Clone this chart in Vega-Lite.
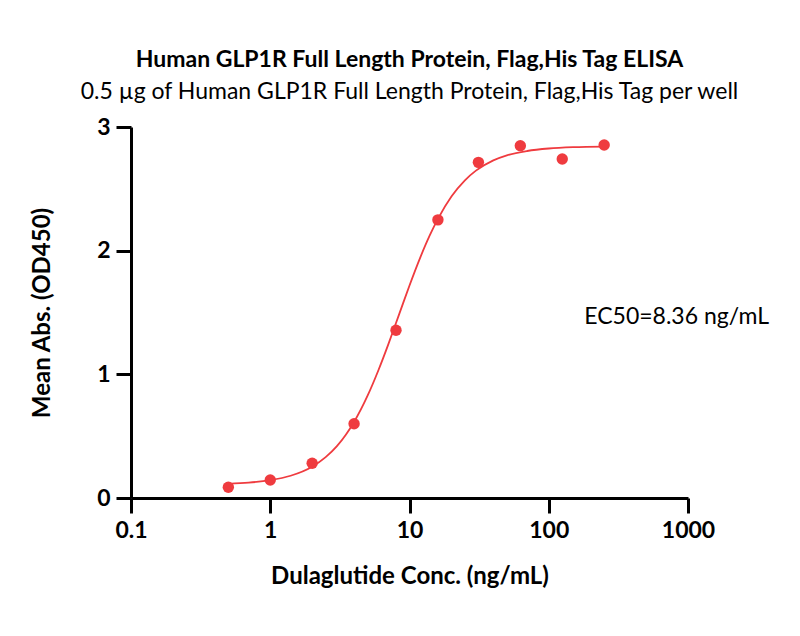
{
  "$schema": "https://vega.github.io/schema/vega-lite/v6.json",
  "width": 557,
  "height": 371,
  "autosize": {"type": "none"},
  "padding": {"left": 131, "top": 127, "right": 112, "bottom": 138},
  "background": "white",
  "config": {
    "font": "Lato",
    "view": {"stroke": null},
    "axis": {
      "domainColor": "black",
      "domainWidth": 3,
      "tickColor": "black",
      "tickWidth": 3,
      "tickSize": 15,
      "grid": false,
      "labelFont": "Lato",
      "labelFontWeight": "bold",
      "labelFontSize": 23,
      "labelColor": "black",
      "titleFont": "Lato",
      "titleFontWeight": "bold",
      "titleFontSize": 24,
      "titleColor": "black"
    }
  },
  "title": {
    "text": "Human GLP1R Full Length Protein, Flag,His Tag ELISA",
    "subtitle": "0.5 µg of Human GLP1R Full Length Protein, Flag,His Tag per well",
    "anchor": "middle",
    "font": "Lato",
    "fontSize": 23,
    "fontWeight": "bold",
    "color": "black",
    "subtitleFont": "Lato",
    "subtitleFontSize": 23,
    "subtitleColor": "black",
    "subtitlePadding": 9,
    "offset": 12
  },
  "datasets": {
    "points": [
      {"conc": 0.5, "abs": 0.087},
      {"conc": 1, "abs": 0.146},
      {"conc": 2, "abs": 0.281},
      {"conc": 4, "abs": 0.6},
      {"conc": 8, "abs": 1.357},
      {"conc": 16, "abs": 2.249},
      {"conc": 31.25, "abs": 2.714},
      {"conc": 62.5, "abs": 2.849},
      {"conc": 125, "abs": 2.741},
      {"conc": 250, "abs": 2.854}
    ],
    "curve": [
      {"conc": 0.5, "abs": 0.115},
      {"conc": 0.7, "abs": 0.124},
      {"conc": 1, "abs": 0.144},
      {"conc": 1.4, "abs": 0.18},
      {"conc": 2, "abs": 0.253},
      {"conc": 2.5, "abs": 0.33},
      {"conc": 3, "abs": 0.417},
      {"conc": 3.5, "abs": 0.514},
      {"conc": 4, "abs": 0.615},
      {"conc": 5, "abs": 0.827},
      {"conc": 6, "abs": 1.037},
      {"conc": 7, "abs": 1.234},
      {"conc": 8, "abs": 1.415},
      {"conc": 9, "abs": 1.576},
      {"conc": 10, "abs": 1.718},
      {"conc": 12, "abs": 1.95},
      {"conc": 14, "abs": 2.125},
      {"conc": 16, "abs": 2.257},
      {"conc": 20, "abs": 2.438},
      {"conc": 25, "abs": 2.569},
      {"conc": 30, "abs": 2.647},
      {"conc": 40, "abs": 2.73},
      {"conc": 50, "abs": 2.771},
      {"conc": 70, "abs": 2.806},
      {"conc": 100, "abs": 2.826},
      {"conc": 150, "abs": 2.837},
      {"conc": 250, "abs": 2.842}
    ],
    "label": [
      {"conc": 180, "abs": 1.46, "text": "EC50=8.36 ng/mL"}
    ]
  },
  "layer": [
    {
      "data": {"name": "curve"},
      "mark": {"type": "line", "color": "#EF3B3F", "strokeWidth": 1.8, "interpolate": "monotone"},
      "encoding": {
        "x": {
          "field": "conc", "type": "quantitative",
          "scale": {"type": "log", "domain": [0.1, 1000], "nice": false},
          "axis": {"values": [0.1, 1, 10, 100, 1000], "format": "~g", "title": "Dulaglutide Conc. (ng/mL)", "labelPadding": 6, "titlePadding": 22, "labelFlush": false}
        },
        "y": {
          "field": "abs", "type": "quantitative",
          "scale": {"domain": [0, 3], "nice": false},
          "axis": {"values": [0, 1, 2, 3], "format": "d", "title": "Mean Abs. (OD450)", "labelPadding": 6, "titlePadding": 42, "labelFlush": false}
        }
      }
    },
    {
      "data": {"name": "points"},
      "mark": {"type": "point", "filled": true, "opacity": 1, "color": "#EF3B3F", "size": 130},
      "encoding": {
        "x": {"field": "conc", "type": "quantitative"},
        "y": {"field": "abs", "type": "quantitative"}
      }
    },
    {
      "data": {"name": "label"},
      "mark": {"type": "text", "align": "left", "baseline": "middle", "font": "Lato", "fontSize": 23, "color": "black"},
      "encoding": {
        "x": {"field": "conc", "type": "quantitative"},
        "y": {"field": "abs", "type": "quantitative"},
        "text": {"field": "text"}
      }
    }
  ]
}
